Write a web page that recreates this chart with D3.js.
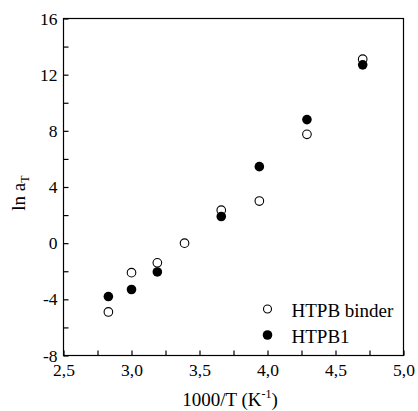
<!DOCTYPE html>
<html lang="en">
<head>
    <meta charset="UTF-8">
    <script src="https://cdnjs.cloudflare.com/ajax/libs/d3/7.8.5/d3.min.js"></script>
    <title>ln aT vs 1000/T</title>
    <style>
        body { margin: 0; background: #fff; }
        svg text { font-family: "Liberation Serif", "DejaVu Serif", serif !important; fill: #000; }
    </style>
</head>
<body>
    <div id="chart"></div>
    <script>
        // values
        var binderX = [2.83, 3.0, 3.19, 3.39, 3.66, 3.94, 4.29, 4.70];
        var binderY = [-4.9, -2.1, -1.4, 0.0, 2.35, 3.0, 7.75, 13.1];
        var htpb1X = [2.83, 3.0, 3.19, 3.66, 3.94, 4.29, 4.70];
        var htpb1Y = [-3.8, -3.3, -2.05, 1.9, 5.45, 8.8, 12.7];
        var xTicks = [2.5, 3.0, 3.5, 4.0, 4.5, 5.0];
        var yTicks = [-8, -4, 0, 4, 8, 12, 16];
        var seriesNames = ["HTPB binder", "HTPB1"];

        var W = 418, H = 411;
        var svg = d3.select("#chart").append("svg")
                    .attr("width", W)
                    .attr("height", H);

        var x = d3.scaleLinear().domain([2.5, 5.0]).range([63.5, 403.5]);
        var y = d3.scaleLinear().domain([-8, 16]).range([355.5, 18.5]);

        var fmt = function(d) { return d3.format(".1f")(d).replace(".", ","); };

        // frame
        svg.append("rect")
            .attr("x", x(2.5)).attr("y", y(16))
            .attr("width", x(5.0) - x(2.5)).attr("height", y(-8) - y(16))
            .attr("fill", "none").attr("stroke", "#000").attr("stroke-width", 1.2);

        // x axis, ticks pointing in
        var xAxis = svg.append("g")
            .attr("transform", "translate(0," + y(-8) + ")")
            .call(d3.axisBottom(x).tickValues(d3.range(2.5, 5.01, 0.25))
                .tickSize(-5).tickPadding(8)
                .tickFormat(function(d) { return xTicks.some(function(t) { return Math.abs(t - d) < 1e-6; }) ? fmt(d) : ""; }));
        xAxis.attr("font-family", null).attr("font-size", null);
        xAxis.select(".domain").remove();
        xAxis.selectAll("text").style("font-size", "17.5px");
        xAxis.selectAll("line").attr("stroke-width", 1.2);

        // y axis
        var yAxis = svg.append("g")
            .attr("transform", "translate(" + x(2.5) + ",0)")
            .call(d3.axisLeft(y).tickValues(d3.range(-8, 16.1, 2))
                .tickSize(-5).tickPadding(6)
                .tickFormat(function(d) { return yTicks.indexOf(d) >= 0 ? d : ""; }));
        yAxis.attr("font-family", null).attr("font-size", null);
        yAxis.select(".domain").remove();
        yAxis.selectAll("text").style("font-size", "17.5px");
        yAxis.selectAll("line").attr("stroke-width", 1.2);

        // axis titles
        var xt = svg.append("text")
            .attr("x", 230).attr("y", 406)
            .attr("text-anchor", "middle")
            .style("font-size", "19px");
        xt.append("tspan").text("1000/T (K");
        xt.append("tspan").attr("dy", -8).style("font-size", "12px").text("-1");
        xt.append("tspan").attr("dy", 8).text(")");

        var yt = svg.append("text")
            .attr("transform", "translate(25,193) rotate(-90)")
            .attr("text-anchor", "middle")
            .style("font-size", "19px");
        yt.append("tspan").text("ln a");
        yt.append("tspan").attr("dy", 4).style("font-size", "12px").text("T");

        // points
        svg.append("g").selectAll("circle")
            .data(binderX)
            .enter().append("circle")
            .attr("cx", function(d) { return x(d); })
            .attr("cy", function(d, i) { return y(binderY[i]); })
            .attr("r", 4.3)
            .attr("fill", "#fff").attr("stroke", "#000").attr("stroke-width", 1.1);

        svg.append("g").selectAll("circle")
            .data(htpb1X)
            .enter().append("circle")
            .attr("cx", function(d) { return x(d); })
            .attr("cy", function(d, i) { return y(htpb1Y[i]); })
            .attr("r", 4.8)
            .attr("fill", "#000");

        // legend
        var leg = svg.append("g");
        seriesNames.forEach(function(name, i) {
            var ly = 309 + i * 26;
            leg.append("circle")
                .attr("cx", 267.5).attr("cy", ly)
                .attr("r", i == 0 ? 4 : 4.8)
                .attr("fill", i == 0 ? "#fff" : "#000")
                .attr("stroke", i == 0 ? "#000" : "none").attr("stroke-width", 1.1);
            leg.append("text")
                .attr("x", 291.5).attr("y", ly + 7.5)
                .style("font-size", "19px")
                .text(name);
        });
    </script>
</body>
</html>
